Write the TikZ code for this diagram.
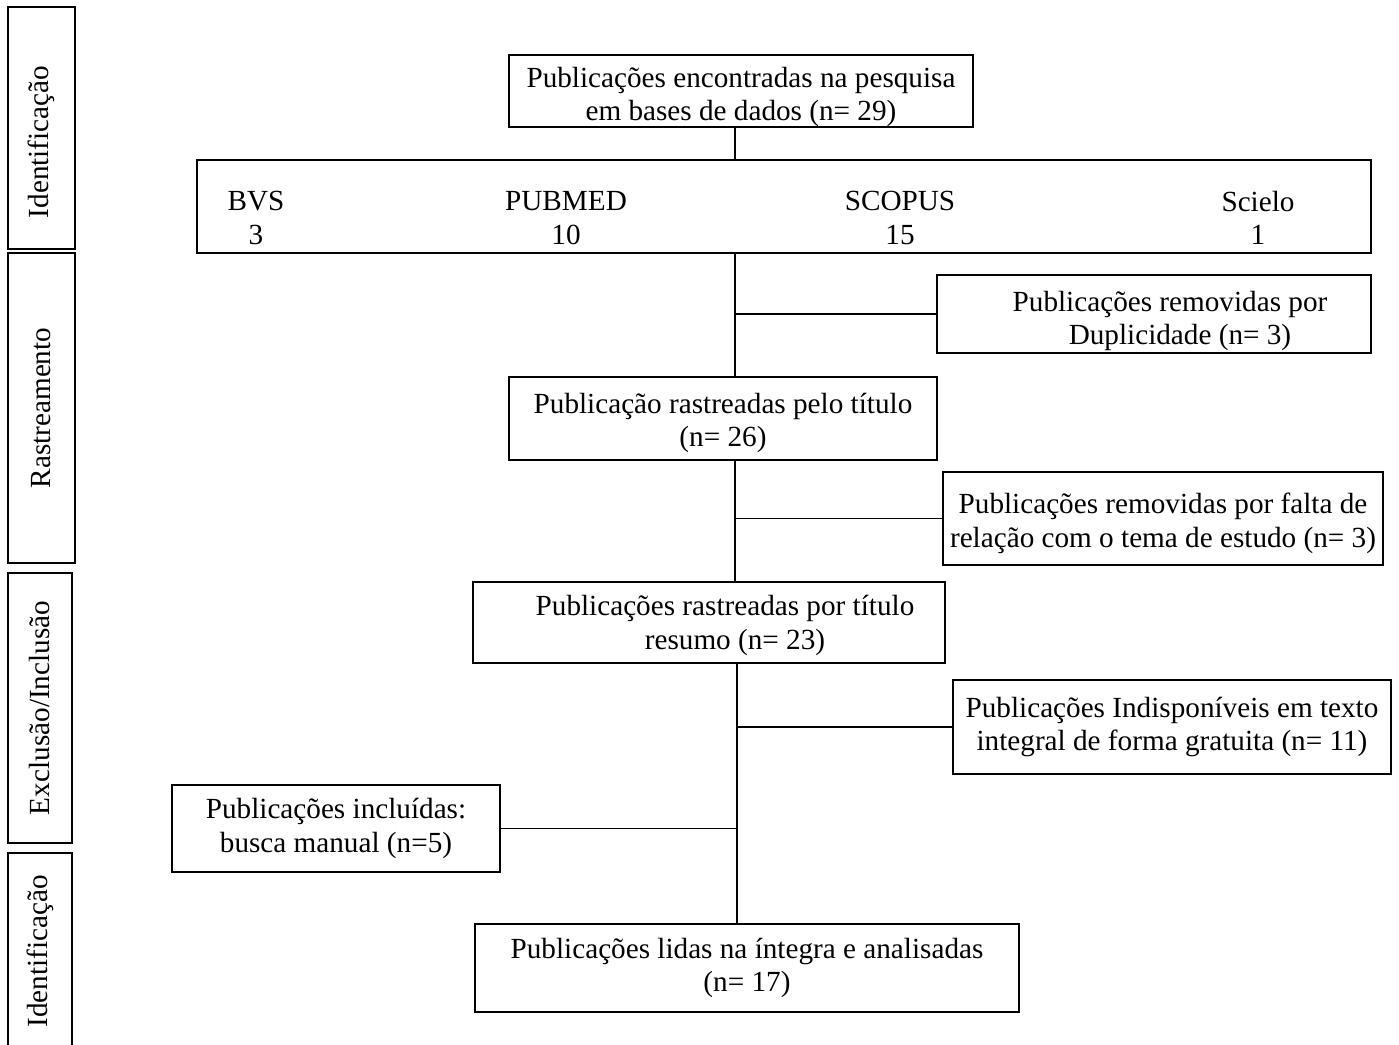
\documentclass[tikz,border=0pt]{standalone}
\usepackage{fontspec}
\setmainfont{Liberation Serif}
\usetikzlibrary{calc}
\newcommand{\dn}[1]{\rule{0pt}{#1}}

\begin{document}
\begin{tikzpicture}[x=0.5pt,y=-0.5pt,font=\fontsize{14.6pt}{16.6pt}\selectfont]
       \tikzstyle{frame} = [rectangle, draw=black, line width=1pt, align=center, inner sep=0pt];
       \tikzstyle{stage} = [frame, rotate=90];
       \tikzstyle{link} = [draw=black, line width=0.6pt];
       \useasboundingbox (0,0) rectangle (1399,1045);

       % etapas
       \node[stage, minimum width=121pt, minimum height=33.5pt] (ident) at (41.5,128) {Identificação\hspace*{14pt}};
       \node[stage, minimum width=155pt, minimum height=33.5pt] (rastr) at (41.5,408) {Rastreamento};
       \node[stage, minimum width=135pt, minimum height=32pt] (exclu) at (40,708) {Exclusão/Inclusão};
       \node[stage, minimum width=98.5pt, minimum height=32pt] (ident2) at (40,951.5) {Identificação};

       % caixas
       \node[frame, minimum width=232pt, minimum height=36pt] (found) at (741,91)
            {\dn{16pt}Publicações encontradas na pesquisa\\em bases de dados (n= 29)};
       \node[frame, minimum width=587pt, minimum height=46.5pt] (bases) at (784,206.5) {};
       \node[align=center] (bvs) at (256,218) {BVS\\3};
       \node[align=center] (pubmed) at (566,218) {PUBMED\\10};
       \node[align=center] (scopus) at (900,218) {SCOPUS\\15};
       \node[align=center] (scielo) at (1258,218) {Scielo\\1};
       \node[frame, minimum width=217pt, minimum height=39pt] (dup) at (1154,314)
            {\dn{17pt}\hspace*{16pt}Publicações removidas por\\\hspace*{26pt}Duplicidade (n= 3)};
       \node[frame, minimum width=214pt, minimum height=41.5pt] (titulo) at (723,418.5)
            {\dn{14.5pt}Publicação rastreadas pelo título\\(n= 26)};
       \node[frame, minimum width=220pt, minimum height=46.5pt] (falta) at (1163,518.5)
            {\dn{15pt}Publicações removidas por falta de\\relação com o tema de estudo (n= 3)};
       \node[frame, minimum width=236pt, minimum height=40.5pt] (resumo) at (709,622.5)
            {\dn{13pt}\hspace*{16pt}Publicações rastreadas por título\\\hspace*{26pt}resumo (n= 23)};
       \node[frame, minimum width=219pt, minimum height=47pt] (indisp) at (1172,727)
            {Publicações Indisponíveis em texto\\integral de forma gratuita (n= 11)};
       \node[frame, minimum width=164pt, minimum height=43.5pt] (manual) at (336,828.5)
            {Publicações incluídas:\\busca manual (n=5)};
       \node[frame, minimum width=272pt, minimum height=44pt] (lidas) at (747,968)
            {Publicações lidas na íntegra e analisadas\\(n= 17)};

       \coordinate (trunk) at (735,0);
       \coordinate (trunk2) at (737,0);

       \draw[link] (found.south -| trunk) -- (bases.north -| trunk);
       \draw[link] (bases.south -| trunk) -- (titulo.north -| trunk);
       \draw[link] (titulo.south -| trunk) -- (resumo.north -| trunk);
       \draw[link] (resumo.south -| trunk2) -- (lidas.north -| trunk2);

       \draw[link] (dup.west -| trunk) -- (dup.west);
       \draw[link] (falta.west -| trunk) -- (falta.west);
       \draw[link] (indisp.west -| trunk2) -- (indisp.west);
       \draw[link] (manual.east -| trunk2) -- (manual.east);
\end{tikzpicture}
\end{document}
